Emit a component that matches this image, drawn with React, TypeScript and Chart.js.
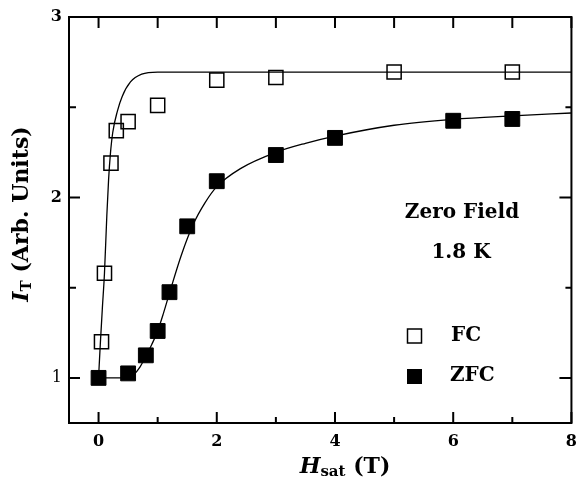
import React, { useEffect, useRef } from "react";
import { Chart, registerables } from "chart.js";

Chart.register(...registerables);

// FC (field-cooled) measured points
const fcX = [0.05, 0.1, 0.21, 0.3, 0.5, 1, 2, 3, 5, 7];
const fcY = [1.2, 1.58, 2.19, 2.37, 2.42, 2.51, 2.65, 2.665, 2.695, 2.695];
// ZFC (zero-field-cooled) measured points
const zfcX = [0, 0.5, 0.8, 1.0, 1.2, 1.5, 2, 3, 4, 6, 7];
const zfcY = [1.0, 1.025, 1.125, 1.26, 1.475, 1.84, 2.09, 2.235, 2.33, 2.425, 2.435];
// Fit curves
const fcFitX = [0, 0.03, 0.065, 0.1, 0.14, 0.17, 0.2, 0.24, 0.32, 0.4, 0.54, 0.73, 1.0, 8];
const fcFitY = [1.0, 1.19, 1.39, 1.58, 1.9, 2.1, 2.24, 2.36, 2.48, 2.56, 2.64, 2.683, 2.695, 2.695];
const zfcFitX = [0, 0.5, 0.6, 0.7, 0.8, 0.9, 1.0, 1.1, 1.2, 1.4, 1.6, 1.8, 2.0, 2.4, 3.0, 3.5, 4.0, 5.0, 6.0, 7.0, 8.0];
const zfcFitY = [1.0, 1.0, 1.02, 1.06, 1.12, 1.185, 1.26, 1.36, 1.47, 1.68, 1.85, 1.97, 2.06, 2.16, 2.25, 2.3, 2.34, 2.4, 2.433, 2.452, 2.468];
// Ticks
const xTickVals = [0, 1, 2, 3, 4, 5, 6, 7, 8];
const xLabelVals = [0, 2, 4, 6, 8];
const yTickVals = [1, 1.5, 2, 2.5, 3];
const yLabelVals = [1, 2, 3];
const legendLabels = ["FC", "ZFC"];
const annotLines = ["Zero Field", "1.8 K"];

const FONT = "'DejaVu Serif', serif";

const zip = (xs: number[], ys: number[]) => xs.map((x, i) => ({ x, y: ys[i] }));

type Seg = { text: string; font: string; dy: number };

function drawRich(ctx: CanvasRenderingContext2D, segs: Seg[], cx: number, cy: number, rot: number) {
  ctx.save();
  ctx.translate(cx, cy);
  ctx.rotate(rot);
  ctx.textBaseline = "middle";
  ctx.textAlign = "left";
  let total = 0;
  const widths = segs.map((s) => {
    ctx.font = s.font;
    const w = ctx.measureText(s.text).width;
    total += w;
    return w;
  });
  let xx = -total / 2;
  segs.forEach((s, i) => {
    ctx.font = s.font;
    ctx.fillText(s.text, xx, s.dy);
    xx += widths[i];
  });
  ctx.restore();
}

const decor = {
  id: "decor",
  afterDraw(chart: any) {
    const { ctx, chartArea: a, scales } = chart;
    const x = scales.x;
    const y = scales.y;
    ctx.save();
    ctx.strokeStyle = "#000";
    ctx.fillStyle = "#000";
    ctx.lineWidth = 2;
    ctx.strokeRect(a.left, a.top, a.right - a.left, a.bottom - a.top);
    ctx.beginPath();
    for (const v of xTickVals) {
      const px = x.getPixelForValue(v);
      const major = xLabelVals.includes(v);
      ctx.moveTo(px, a.bottom);
      ctx.lineTo(px, a.bottom - (major ? 11 : 6));
      ctx.moveTo(px, a.top);
      ctx.lineTo(px, a.top + 11);
    }
    for (const v of yTickVals) {
      const py = y.getPixelForValue(v);
      const major = yLabelVals.includes(v);
      ctx.moveTo(a.left, py);
      ctx.lineTo(a.left + (major ? 11 : 7), py);
      ctx.moveTo(a.right, py);
      ctx.lineTo(a.right - (major ? 12 : 6), py);
    }
    ctx.stroke();

    // annotation
    ctx.font = `bold 20px ${FONT}`;
    ctx.textAlign = "center";
    ctx.textBaseline = "middle";
    ctx.fillText(annotLines[0], 462, 213);
    ctx.fillText(annotLines[1], 461, 253);

    // legend
    ctx.lineWidth = 1.5;
    ctx.strokeRect(407.5, 329, 14, 14);
    ctx.fillRect(407, 369, 15, 15);
    ctx.textAlign = "left";
    ctx.fillText(legendLabels[0], 451, 336);
    ctx.fillText(legendLabels[1], 450, 376);

    // axis titles
    drawRich(
      ctx,
      [
        { text: "H", font: `italic bold 22px ${FONT}`, dy: 0 },
        { text: "sat", font: `bold 15px ${FONT}`, dy: 5 },
        { text: " (T)", font: `bold 22px ${FONT}`, dy: 0 },
      ],
      345,
      467,
      0
    );
    drawRich(
      ctx,
      [
        { text: "I", font: `italic bold 22px ${FONT}`, dy: 0 },
        { text: "T", font: `bold 15px ${FONT}`, dy: 5 },
        { text: " (Arb. Units)", font: `bold 22px ${FONT}`, dy: 0 },
      ],
      22,
      214,
      -Math.PI / 2
    );
    ctx.restore();
  },
};

export default function App() {
  const ref = useRef<HTMLCanvasElement>(null);
  useEffect(() => {
    if (!ref.current) return;
    const chart = new Chart(ref.current, {
      type: "scatter",
      data: {
        datasets: [
          {
            label: "FC",
            data: zip(fcX, fcY),
            showLine: false,
            pointStyle: "rect",
            pointRadius: 10,
            pointBorderWidth: 1.5,
            pointBorderColor: "#000",
            pointBackgroundColor: "rgba(0,0,0,0)",
          },
          {
            label: "ZFC",
            data: zip(zfcX, zfcY),
            showLine: false,
            pointStyle: "rect",
            pointRadius: 10.5,
            pointBorderWidth: 1,
            pointBorderColor: "#000",
            pointBackgroundColor: "#000",
          },
          {
            label: "FC fit",
            data: zip(fcFitX, fcFitY),
            showLine: true,
            pointRadius: 0,
            borderColor: "#000",
            borderWidth: 1.3,
            cubicInterpolationMode: "monotone",
          },
          {
            label: "ZFC fit",
            data: zip(zfcFitX, zfcFitY),
            showLine: true,
            pointRadius: 0,
            borderColor: "#000",
            borderWidth: 1.3,
            cubicInterpolationMode: "monotone",
          },
        ],
      },
      options: {
        responsive: false,
        animation: false,
        layout: { padding: { left: 0, right: 4, top: 17, bottom: 0 } },
        plugins: { legend: { display: false }, tooltip: { enabled: false } },
        scales: {
          x: {
            type: "linear",
            min: -0.5,
            max: 8,
            afterFit: (s: any) => {
              s.height = 67;
            },
            afterBuildTicks: (s: any) => {
              s.ticks = xTickVals.map((v) => ({ value: v }));
            },
            grid: { display: false, drawTicks: false },
            border: { display: false },
            ticks: {
              padding: 9,
              color: "#000",
              maxRotation: 0,
              autoSkip: false,
              font: { family: FONT, size: 16, weight: "bold" },
              callback: (v: any) => (xLabelVals.includes(Number(v)) ? String(v) : ""),
            },
          },
          y: {
            type: "linear",
            min: 0.75,
            max: 3,
            afterFit: (s: any) => {
              s.width = 69;
            },
            afterBuildTicks: (s: any) => {
              s.ticks = yTickVals.map((v) => ({ value: v }));
            },
            grid: { display: false, drawTicks: false },
            border: { display: false },
            ticks: {
              padding: 7,
              color: "#000",
              autoSkip: false,
              font: (c: any) => ({
                family: FONT,
                size: 16,
                weight: c.tick && c.tick.value === 1 ? "normal" : "bold",
              }),
              callback: (v: any) => (yLabelVals.includes(Number(v)) ? String(v) : ""),
            },
          },
        },
      },
      plugins: [decor],
    });
    return () => chart.destroy();
  }, []);
  return (
    <div style={{ position: "absolute", left: 0, top: 0, width: 586, height: 490, background: "#fff" }}>
      <canvas ref={ref} width={586} height={490} style={{ width: 586, height: 490 }} />
    </div>
  );
}
